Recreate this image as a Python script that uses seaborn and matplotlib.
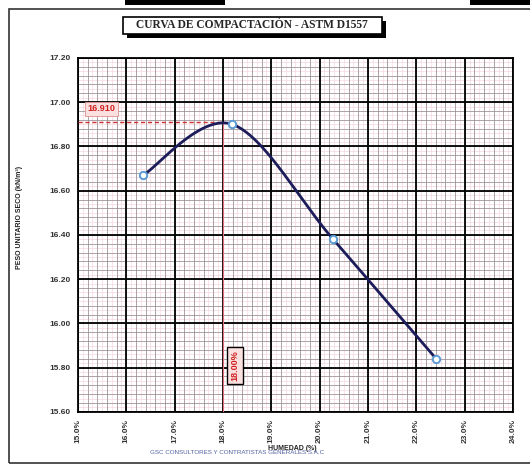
import numpy as np
import pandas as pd
import matplotlib
matplotlib.use("Agg")
import matplotlib.pyplot as plt
from matplotlib.patches import Rectangle
from matplotlib.ticker import FuncFormatter
import seaborn as sns

# Compaction test points (moisture %, dry unit weight kN/m3)
humedad = [16.35, 18.19, 20.28, 22.41]
peso_seco = [16.67, 16.90, 16.38, 15.84]

# Optimum values reported on the chart
humedad_optima = 18.00
peso_maximo = 16.910

x_ticks = [15.0, 16.0, 17.0, 18.0, 19.0, 20.0, 21.0, 22.0, 23.0, 24.0]
y_ticks = [15.60, 15.80, 16.00, 16.20, 16.40, 16.60, 16.80, 17.00, 17.20]

titulo = "CURVA DE COMPACTACIÓN - ASTM D1557"
etiqueta_y = "PESO UNITARIO SECO (kN/m³)"
etiqueta_x = "HUMEDAD (%)"
empresa = "GSC CONSULTORES Y CONTRATISTAS GENERALES S.A.C"


def suavizar(xp, yp, n=60):
    """Smoothed line through the points (Catmull-Rom / Bezier style)."""
    p = np.column_stack([xp, yp]).astype(float)
    # normalise so both axes weigh alike when building tangents
    escala = np.array([9.0, 1.6])
    q = p / escala
    ext = np.vstack([q[0], q, q[-1]])
    salida = []
    for i in range(len(q) - 1):
        p0, p1, p2, p3 = ext[i], ext[i + 1], ext[i + 2], ext[i + 3]
        c1 = p1 + (p2 - p0) / 6.0
        c2 = p2 - (p3 - p1) / 6.0
        t = np.linspace(0, 1, n)[:, None]
        b = ((1 - t) ** 3) * p1 + 3 * ((1 - t) ** 2) * t * c1 + 3 * (1 - t) * t ** 2 * c2 + t ** 3 * p2
        salida.append(b if i == 0 else b[1:])
    return np.vstack(salida) * escala


sns.set_theme(style="white")
plt.rcParams["font.family"] = ["Liberation Sans", "DejaVu Sans"]

fig = plt.figure(figsize=(5.30, 4.67), dpi=100)
ax = fig.add_axes([0.147, 0.118, 0.821, 0.758])

curva_xy = suavizar(humedad, peso_seco)
curva = pd.DataFrame({"w": curva_xy[:, 0], "g": curva_xy[:, 1]})
sns.lineplot(data=curva, x="w", y="g", ax=ax, color="#1c1c5a", lw=2.0, sort=False,
             estimator=None, zorder=5)

puntos = pd.DataFrame({"w": humedad, "g": peso_seco})
sns.scatterplot(data=puntos, x="w", y="g", ax=ax, s=28, facecolor="white",
                edgecolor="#5b9bd5", linewidth=1.4, zorder=6)

ax.set_xlim(x_ticks[0], x_ticks[-1])
ax.set_ylim(y_ticks[0], y_ticks[-1])

# Graph-paper style grid
for v in np.arange(15.1, 24.0, 0.2):
    ax.axvline(v, color="#f4d8de", lw=0.5, zorder=1)
for v in np.arange(15.62, 17.2, 0.04):
    ax.axhline(v, color="#f4d8de", lw=0.5, zorder=1)
for v in np.arange(15.0, 24.0001, 0.2):
    ax.axvline(v, color="#958a8f", lw=0.55, zorder=2)
for v in np.arange(15.6, 17.2001, 0.04):
    ax.axhline(v, color="#958a8f", lw=0.55, zorder=2)
for v in x_ticks:
    ax.axvline(v, color="black", lw=1.3, zorder=3)
for v in y_ticks:
    ax.axhline(v, color="black", lw=1.3, zorder=3)

ax.set_xticks(x_ticks)
ax.set_yticks(y_ticks)
ax.xaxis.set_major_formatter(FuncFormatter(lambda v, p: f"{v:.1f}%"))
ax.yaxis.set_major_formatter(FuncFormatter(lambda v, p: f"{v:.2f}"))
ax.tick_params(axis="x", labelsize=6, rotation=90, length=2, pad=3)
ax.tick_params(axis="y", labelsize=6, length=2, pad=3)
for lab in ax.get_xticklabels() + ax.get_yticklabels():
    lab.set_fontweight("bold")
    lab.set_color("#333333")
for s in ax.spines.values():
    s.set_color("black")
    s.set_linewidth(1.3)
ax.set_xlabel("")
ax.set_ylabel("")

# Optimum guide lines
ax.plot([x_ticks[0], humedad_optima], [peso_maximo, peso_maximo], color="#d03030",
        ls=(0, (3, 2)), lw=1.0, zorder=4)
ax.plot([humedad_optima, humedad_optima], [y_ticks[0], peso_maximo], color="#e87080",
        ls="-", lw=0.8, zorder=4)

ax.text(15.2, 16.97, f"{peso_maximo:.3f}", color="#d02020", fontsize=6.5, fontweight="bold",
        ha="left", va="center", zorder=7,
        bbox=dict(boxstyle="square,pad=0.3", fc="#fbe0e0", ec="#e09090", lw=0.6))
ax.text(18.25, 15.81, f"{humedad_optima:.2f}%", color="#d02020", fontsize=6.5, fontweight="bold",
        rotation=90, ha="center", va="center", zorder=7,
        bbox=dict(boxstyle="square,pad=0.35", fc="#fbe0e0", ec="black", lw=1.0))

# Title box with drop shadow
fig.patches.append(Rectangle((127 / 530, 1 - 38 / 467), 259 / 530, 17 / 467,
                             transform=fig.transFigure, fc="black", ec="none", zorder=1))
fig.patches.append(Rectangle((123 / 530, 1 - 34 / 467), 259 / 530, 17 / 467,
                             transform=fig.transFigure, fc="white", ec="black", lw=1.2, zorder=2))
fig.text(252 / 530, 1 - 25.5 / 467, titulo, ha="center", va="center", fontsize=8.3,
         fontweight="bold", family=["Liberation Serif", "DejaVu Serif"], zorder=3)

fig.text(20 / 530, 1 - 217 / 467, etiqueta_y, rotation=90, ha="center", va="center",
         fontsize=5, fontweight="bold", color="#222222")
fig.text(292 / 530, 1 - 448 / 467, etiqueta_x, ha="center", va="center",
         fontsize=5, fontweight="bold", color="#222222")
fig.text(150 / 530, 1 - 453 / 467, empresa, ha="left", va="center",
         fontsize=4.5, color="#5060a0")

# Outer sheet frame and top bars
fig.patches.append(Rectangle((9 / 530, 1 - 463 / 467), 530 / 530, 454 / 467,
                             transform=fig.transFigure, fc="none", ec="#333333", lw=1.2))
fig.patches.append(Rectangle((125 / 530, 1 - 5 / 467), 100 / 530, 5 / 467,
                             transform=fig.transFigure, fc="black", ec="none"))
fig.patches.append(Rectangle((470 / 530, 1 - 5 / 467), 60 / 530, 5 / 467,
                             transform=fig.transFigure, fc="black", ec="none"))

fig.savefig("out.png", dpi=100, facecolor="white")
